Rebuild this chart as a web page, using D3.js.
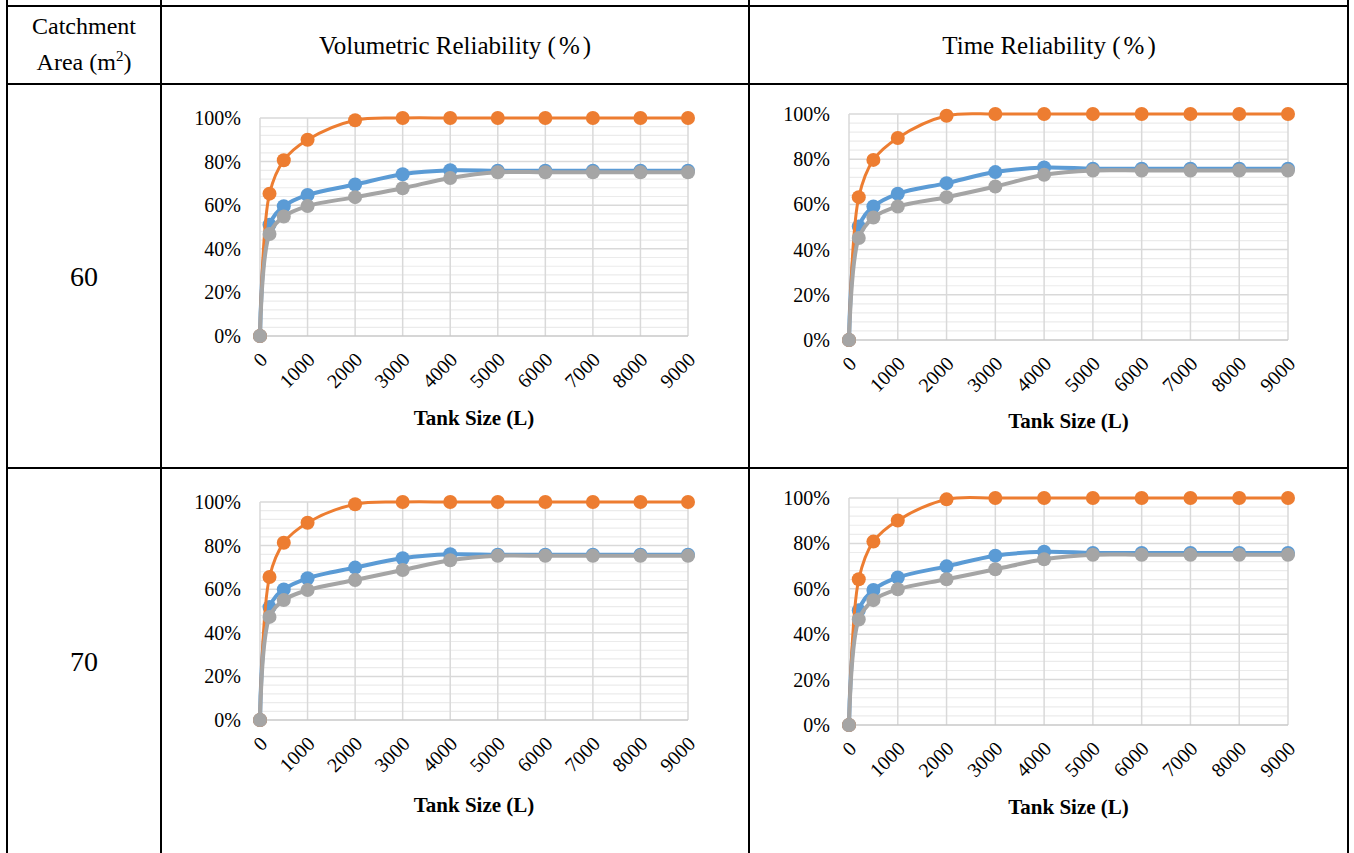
<!DOCTYPE html>
<html><head><meta charset="utf-8">
<script src="https://cdn.jsdelivr.net/npm/d3@7"></script>
<style>
html,body{margin:0;padding:0;background:#fff;}
svg{display:block;}
</style></head>
<body>
<svg id="c" width="1354" height="853"></svg>
<script>
// ---------------- DATA ----------------
const tankSizes = [0, 200, 500, 1000, 2000, 3000, 4000, 5000, 6000, 7000, 8000, 9000];
const xTickValues = [0, 1000, 2000, 3000, 4000, 5000, 6000, 7000, 8000, 9000];
const yTickValues = [0, 20, 40, 60, 80, 100];
const catchmentAreas = ["60", "70"];
const columnHeaders = ["Volumetric Reliability", "Time Reliability"];
const xAxisTitle = "Tank Size (L)";

// Catchment 60 m2 - Volumetric reliability (%)
const vol60Blue   = [0, 51.0, 59.5, 64.7, 69.5, 74.2, 76.0, 75.8, 75.8, 75.8, 75.8, 75.8];
const vol60Orange = [0, 65.3, 80.6, 90.0, 99.0, 100, 100, 100, 100, 100, 100, 100];
const vol60Gray   = [0, 46.8, 54.8, 59.6, 63.7, 67.8, 72.5, 75.1, 75.1, 75.1, 75.1, 75.1];
// Catchment 60 m2 - Time reliability (%)
const time60Blue   = [0, 50.2, 59.1, 64.7, 69.4, 74.3, 76.3, 75.8, 75.8, 75.8, 75.8, 75.8];
const time60Orange = [0, 63.2, 79.7, 89.4, 99.2, 100, 100, 100, 100, 100, 100, 100];
const time60Gray   = [0, 45.1, 54.2, 59.1, 63.2, 67.9, 73.1, 75.0, 75.0, 75.0, 75.0, 75.0];
// Catchment 70 m2 - Volumetric reliability (%)
const vol70Blue   = [0, 51.8, 59.9, 65.0, 69.9, 74.2, 76.0, 75.8, 75.8, 75.8, 75.8, 75.8];
const vol70Orange = [0, 65.6, 81.3, 90.5, 99.0, 100, 100, 100, 100, 100, 100, 100];
const vol70Gray   = [0, 47.3, 55.0, 59.6, 64.2, 68.8, 73.3, 75.3, 75.3, 75.3, 75.3, 75.3];
// Catchment 70 m2 - Time reliability (%)
const time70Blue   = [0, 50.5, 59.5, 65.0, 69.9, 74.6, 76.3, 75.8, 75.8, 75.8, 75.8, 75.8];
const time70Orange = [0, 64.2, 80.8, 90.1, 99.4, 100, 100, 100, 100, 100, 100, 100];
const time70Gray   = [0, 46.5, 55.0, 59.8, 64.2, 68.6, 73.0, 75.0, 75.0, 75.0, 75.0, 75.0];

// ---------------- LAYOUT ----------------
const svg = d3.select("#c");
const serif = "'Liberation Serif','Times New Roman',serif";
const colors = {blue: "#5B9BD5", orange: "#ED7D31", gray: "#A5A5A5"};

// table lines
const tl = svg.append("g").attr("stroke", "#000").attr("stroke-width", 2);
[7, 161, 749, 1348].forEach(x => tl.append("line").attr("x1", x).attr("x2", x).attr("y1", 0).attr("y2", 853));
[6, 84, 468].forEach(y => tl.append("line").attr("x1", 6).attr("x2", 1349).attr("y1", y).attr("y2", y));

// header text
const hdr = svg.append("g").attr("font-family", serif).attr("font-size", 24).attr("fill", "#000").attr("text-anchor", "middle");
hdr.append("text").attr("x", 84).attr("y", 34).text("Catchment");
const areaT = hdr.append("text").attr("x", 84).attr("y", 70);
areaT.append("tspan").text("Area (m");
areaT.append("tspan").attr("font-size", 15).attr("dy", -9).text("2");
areaT.append("tspan").attr("dy", 9).text(")");
function pctHeader(x, label) {
  const t = hdr.append("text").attr("x", x).attr("y", 54).attr("font-size", 25);
  t.append("tspan").text(label + " (");
  t.append("tspan").attr("dx", 3).text("%");
  t.append("tspan").attr("dx", 3).text(")");
}
pctHeader(455, columnHeaders[0]);
pctHeader(1049, columnHeaders[1]);
hdr.append("text").attr("x", 84).attr("y", 286).attr("font-size", 28).text(catchmentAreas[0]);
hdr.append("text").attr("x", 84).attr("y", 671).attr("font-size", 28).text(catchmentAreas[1]);

const panels = [
  {x0: 260, x1: 688, yTop: 118, yBot: 336, titleY: 425, blue: vol60Blue, orange: vol60Orange, gray: vol60Gray},
  {x0: 849, x1: 1288, yTop: 114, yBot: 340, titleY: 428, blue: time60Blue, orange: time60Orange, gray: time60Gray},
  {x0: 260, x1: 688, yTop: 502, yBot: 720, titleY: 812, blue: vol70Blue, orange: vol70Orange, gray: vol70Gray},
  {x0: 849, x1: 1288, yTop: 498, yBot: 725, titleY: 814, blue: time70Blue, orange: time70Orange, gray: time70Gray}
];

panels.forEach(p => {
  const x = d3.scaleLinear().domain([0, 9000]).range([p.x0, p.x1]);
  const y = d3.scaleLinear().domain([0, 100]).range([p.yBot, p.yTop]);
  const g = svg.append("g");

  // minor gridlines
  const minor = d3.range(0, 101, 4).filter(v => v % 20 !== 0);
  g.append("g").selectAll("line").data(minor).join("line")
    .attr("x1", p.x0).attr("x2", p.x1).attr("y1", d => y(d)).attr("y2", d => y(d))
    .attr("stroke", "#ebebeb").attr("stroke-width", 1.2);
  // major horizontal gridlines
  g.append("g").selectAll("line").data(yTickValues.filter(v => v > 0)).join("line")
    .attr("x1", p.x0).attr("x2", p.x1).attr("y1", d => y(d)).attr("y2", d => y(d))
    .attr("stroke", "#d9d9d9").attr("stroke-width", 1.5);
  // vertical gridlines
  g.append("g").selectAll("line").data(xTickValues).join("line")
    .attr("x1", d => x(d)).attr("x2", d => x(d)).attr("y1", p.yTop).attr("y2", p.yBot)
    .attr("stroke", "#d9d9d9").attr("stroke-width", 1.5);
  // x axis line
  g.append("line").attr("x1", p.x0).attr("x2", p.x1).attr("y1", p.yBot).attr("y2", p.yBot)
    .attr("stroke", "#c8c8c8").attr("stroke-width", 1.5);

  // y axis labels
  const ya = g.append("g").attr("transform", `translate(${p.x0 - 19},0)`)
    .call(d3.axisLeft(y).tickValues(yTickValues).tickSize(0).tickFormat(d => d + "%"));
  ya.select(".domain").remove();
  ya.selectAll("text").attr("font-family", serif).attr("font-size", 20).attr("fill", "#000").attr("x", 0);

  // x axis labels rotated
  const xa = g.append("g").attr("transform", `translate(0,${p.yBot})`)
    .call(d3.axisBottom(x).tickValues(xTickValues).tickSize(0).tickFormat(d => String(d)));
  xa.select(".domain").remove();
  xa.selectAll("text")
    .attr("font-family", serif).attr("font-size", 20).attr("fill", "#000")
    .attr("text-anchor", "end").attr("y", 0).attr("dy", "0.35em")
    .attr("transform", "translate(3,20) rotate(-45)");

  // axis title
  g.append("text").attr("x", (p.x0 + p.x1) / 2).attr("y", p.titleY)
    .attr("text-anchor", "middle").attr("font-family", serif).attr("font-weight", "bold")
    .attr("font-size", 21).text(xAxisTitle);

  const line = d3.line().x((d, i) => x(tankSizes[i])).y(d => y(d)).curve(d3.curveCatmullRom.alpha(0.5));
  [["blue", 4], ["orange", 3], ["gray", 4]].forEach(([k, w]) => {
    const vals = p[k];
    g.append("path").datum(vals).attr("d", line).attr("fill", "none")
      .attr("stroke", colors[k]).attr("stroke-width", w).attr("stroke-linejoin", "round");
    g.append("g").selectAll("circle").data(vals).join("circle")
      .attr("cx", (d, i) => x(tankSizes[i])).attr("cy", d => y(d)).attr("r", 7)
      .attr("fill", colors[k]);
  });
});
</script>
</body></html>
